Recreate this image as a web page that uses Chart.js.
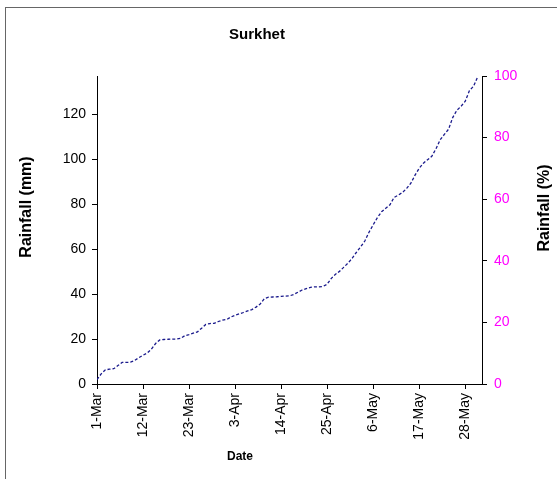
<!DOCTYPE html>
<html>
<head>
<meta charset="utf-8">
<script src="https://cdn.jsdelivr.net/npm/chart.js@4.4.0/dist/chart.umd.min.js"></script>
<style>
  body { margin: 0; background: #fff; }
  #wrap { position: relative; width: 557px; height: 479px; overflow: hidden; }
  #frame { position: absolute; left: 5px; top: 7px; width: 700px; height: 700px; border: 1px solid #666; box-sizing: border-box; }
  canvas { position: absolute; left: 0; top: 0; }
</style>
</head>
<body>
<div id="wrap">
  <div id="frame"></div>
  <canvas id="chart" width="557" height="479"></canvas>
</div>
<script>
// cumulative rainfall (mm), one value per day from 1-Mar to 31-May
const rainfall = [
  2.0, 4.5, 6.3, 6.6, 6.8, 8.2, 9.6, 9.6, 9.7, 10.5,
  11.7, 12.8, 13.8, 15.5, 18.0, 19.6, 19.8, 19.9, 20.0, 20.0,
  20.3, 21.5, 22.0, 22.6, 23.2, 24.8, 26.5, 26.9, 27.0, 27.8,
  28.4, 28.7, 29.8, 30.6, 31.2, 31.8, 32.5, 33.1, 34.2, 35.6,
  38.0, 38.6, 38.7, 38.8, 39.0, 39.1, 39.2, 39.8, 40.8, 41.8,
  42.4, 43.0, 43.2, 43.2, 43.4, 44.4, 47.0, 48.8, 50.2, 52.0,
  53.8, 56.0, 58.6, 61.0, 63.6, 67.5, 70.8, 74.0, 76.6, 78.2,
  79.7, 83.0, 84.0, 85.2, 87.0, 89.3, 92.9, 96.0, 98.2, 99.8,
  101.3, 104.6, 108.6, 111.0, 113.3, 118.5, 121.8, 123.5, 125.8, 130.5,
  132.5, 136.8
];
const tickDays = [0, 11, 22, 33, 44, 55, 66, 77, 88];
const tickLabels = ['1-Mar', '12-Mar', '23-Mar', '3-Apr', '14-Apr', '25-Apr', '6-May', '17-May', '28-May'];
const mmTicks = [0, 20, 40, 60, 80, 100, 120];
const pctTicks = [0, 20, 40, 60, 80, 100];

const FONT = 'Liberation Sans, Arial, sans-serif';

// titles placed like the original sheet
const titlesPlugin = {
  id: 'titles',
  afterDraw(chart) {
    const ctx = chart.ctx;
    ctx.save();
    ctx.fillStyle = '#000';
    ctx.textAlign = 'center';
    ctx.textBaseline = 'middle';
    ctx.font = 'bold 15px ' + FONT;
    ctx.fillText('Surkhet', 257, 35);
    ctx.font = 'bold 12px ' + FONT;
    ctx.fillText('Date', 240, 457);
    ctx.font = 'bold 16px ' + FONT;
    ctx.translate(27, 207);
    ctx.rotate(-Math.PI / 2);
    ctx.fillText('Rainfall (mm)', 0, 0);
    ctx.restore();
    ctx.save();
    ctx.fillStyle = '#000';
    ctx.textAlign = 'center';
    ctx.textBaseline = 'middle';
    ctx.font = 'bold 16px ' + FONT;
    ctx.translate(545, 208);
    ctx.rotate(-Math.PI / 2);
    ctx.fillText('Rainfall (%)', 0, 0);
    ctx.restore();
  }
};

const axisLook = {
  grid: { drawOnChartArea: false, drawTicks: true, tickLength: 5, color: '#000', lineWidth: 1 },
  border: { display: true, color: '#000', width: 1 }
};

new Chart(document.getElementById('chart'), {
  type: 'line',
  data: {
    datasets: [{
      data: rainfall.map((v, i) => ({ x: i, y: v })),
      borderColor: '#1a1a8c',
      borderWidth: 1.3,
      borderDash: [3, 2],
      pointRadius: 0,
      tension: 0,
      fill: false,
      yAxisID: 'y'
    }]
  },
  options: {
    responsive: false,
    animation: false,
    layout: { padding: { top: 76, left: 0, right: 0, bottom: 0 } },
    plugins: { legend: { display: false }, tooltip: { enabled: false } },
    scales: {
      x: {
        type: 'linear',
        min: 0,
        max: 92,
        ...axisLook,
        afterBuildTicks: s => { s.ticks = tickDays.map(v => ({ value: v })); },
        afterFit: s => { s.height = 95; },
        ticks: {
          autoSkip: false,
          minRotation: 90,
          maxRotation: 90,
          padding: 4,
          color: '#000',
          font: { family: FONT, size: 14 },
          callback: v => tickLabels[tickDays.indexOf(v)]
        }
      },
      y: {
        position: 'left',
        min: 0,
        max: 137,
        ...axisLook,
        afterBuildTicks: s => { s.ticks = mmTicks.map(v => ({ value: v })); },
        afterFit: s => { s.width = 97; },
        ticks: { padding: 6, color: '#000', font: { family: FONT, size: 14 } }
      },
      y1: {
        position: 'right',
        display: true,
        min: 0,
        max: 100,
        ...axisLook,
        afterBuildTicks: s => { s.ticks = pctTicks.map(v => ({ value: v })); },
        afterFit: s => { s.width = 75; },
        ticks: { padding: 7, color: '#ff00ff', font: { family: FONT, size: 14 } }
      }
    }
  },
  plugins: [titlesPlugin]
});
</script>
</body>
</html>
